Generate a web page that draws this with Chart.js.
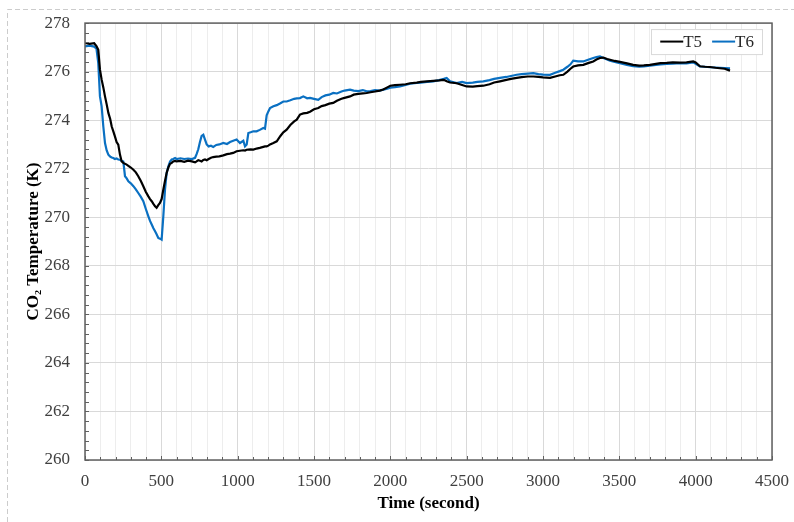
<!DOCTYPE html>
<html>
<head>
<meta charset="utf-8">
<title>CO2 Temperature</title>
<script src="https://cdn.jsdelivr.net/npm/chart.js@4.4.1/dist/chart.umd.min.js"></script>
<style>
  html, body { margin: 0; padding: 0; background: #fff; }
  #wrap { position: relative; width: 794px; height: 522px; }
</style>
</head>
<body>
<div id="wrap"><canvas id="tempChart"></canvas></div>
<script>
// Logged time (s)
const timeSec = [
  0, 30, 60, 75, 87, 98, 109, 120, 131, 142,
  153, 165, 175, 185, 196, 207, 218, 229, 240, 251,
  262, 273, 284, 300, 317, 333, 349, 365, 382, 398,
  415, 426, 437, 448, 459, 469, 480, 491, 502, 513,
  524, 535, 546, 557, 568, 578, 590, 600, 625, 650,
  675, 700, 721, 731, 742, 753, 764, 775, 786, 797,
  810, 825, 840, 860, 880, 906, 930, 950, 971, 993,
  1015, 1037, 1048, 1059, 1070, 1085, 1103, 1124, 1145, 1168,
  1179, 1190, 1201, 1212, 1234, 1256, 1280, 1299, 1321, 1345,
  1370, 1387, 1408, 1430, 1455, 1474, 1500, 1528, 1550, 1575,
  1600, 1626, 1650, 1680, 1700, 1736, 1760, 1790, 1820, 1845,
  1870, 1900, 1930, 1954, 1980, 2000, 2030, 2063, 2100, 2130,
  2173, 2200, 2240, 2281, 2320, 2350, 2369, 2391, 2435, 2470,
  2500, 2540, 2570, 2609, 2650, 2680, 2718, 2760, 2790, 2828,
  2860, 2900, 2937, 2970, 3000, 3046, 3080, 3110, 3133, 3160,
  3180, 3198, 3230, 3264, 3300, 3329, 3350, 3373, 3395, 3420,
  3439, 3470, 3504, 3550, 3591, 3630, 3660, 3700, 3740, 3770,
  3810, 3850, 3897, 3940, 3984, 4000, 4028, 4060, 4094, 4130,
  4159, 4190, 4225
];

// CO2 temperature at sensor T5 (K)
const tempT5 = [
  277.18, 277.14, 277.17, 277.05, 276.90, 276.08, 275.67, 275.35, 274.98, 274.65,
  274.30, 274.05, 273.74, 273.55, 273.33, 273.10, 272.99, 272.58, 272.30, 272.24,
  272.20, 272.17, 272.12, 272.05, 271.96, 271.85, 271.69, 271.50, 271.28, 271.05,
  270.86, 270.75, 270.66, 270.55, 270.45, 270.39, 270.50, 270.59, 270.75, 271.14,
  271.50, 271.83, 272.05, 272.20, 272.24, 272.30, 272.32, 272.30, 272.32, 272.28,
  272.33, 272.30, 272.26, 272.30, 272.35, 272.33, 272.30, 272.36, 272.38, 272.35,
  272.40, 272.45, 272.48, 272.50, 272.51, 272.55, 272.60, 272.62, 272.65, 272.72,
  272.74, 272.76, 272.75, 272.78, 272.79, 272.80, 272.79, 272.83, 272.86, 272.90,
  272.92, 272.92, 272.95, 273.00, 273.06, 273.13, 273.35, 273.50, 273.61, 273.80,
  273.95, 274.02, 274.23, 274.28, 274.30, 274.35, 274.45, 274.50, 274.58, 274.62,
  274.68, 274.71, 274.80, 274.88, 274.92, 274.98, 275.05, 275.08, 275.10, 275.12,
  275.15, 275.18, 275.22, 275.26, 275.35, 275.42, 275.44, 275.46, 275.48, 275.52,
  275.55, 275.58, 275.60, 275.62, 275.64, 275.66, 275.60, 275.55, 275.52, 275.45,
  275.39, 275.38, 275.40, 275.42, 275.48, 275.55, 275.60, 275.66, 275.70, 275.74,
  275.77, 275.80, 275.80, 275.78, 275.76, 275.74, 275.80, 275.85, 275.87, 276.00,
  276.12, 276.21, 276.26, 276.28, 276.36, 276.42, 276.50, 276.56, 276.58, 276.52,
  276.49, 276.44, 276.40, 276.34, 276.28, 276.25, 276.26, 276.28, 276.32, 276.35,
  276.36, 276.38, 276.37, 276.38, 276.42, 276.38, 276.22, 276.20, 276.19, 276.16,
  276.14, 276.12, 276.04
];

// CO2 temperature at sensor T6 (K)
const tempT6 = [
  277.04, 277.07, 277.03, 276.95, 276.35, 274.98, 274.57, 273.74, 273.06, 272.75,
  272.58, 272.50, 272.46, 272.44, 272.40, 272.42, 272.38, 272.37, 272.33, 272.30,
  271.69, 271.60, 271.48, 271.40, 271.28, 271.15, 271.00, 270.85, 270.66, 270.35,
  270.04, 269.85, 269.70, 269.55, 269.42, 269.30, 269.15, 269.12, 269.08, 270.04,
  271.14, 271.83, 272.10, 272.30, 272.38, 272.40, 272.44, 272.40, 272.43, 272.40,
  272.42, 272.40, 272.45, 272.60, 272.80, 273.10, 273.35, 273.40, 273.20, 273.00,
  272.92, 272.95, 272.90, 272.98, 273.00, 273.06, 273.02, 273.10, 273.15, 273.20,
  273.06, 273.15, 272.92, 273.00, 273.47, 273.50, 273.54, 273.54, 273.60, 273.68,
  273.65, 274.20, 274.36, 274.50, 274.57, 274.62, 274.70, 274.77, 274.77, 274.82,
  274.88, 274.90, 274.91, 274.98, 274.90, 274.92, 274.88, 274.84, 274.95, 275.02,
  275.05, 275.12, 275.10, 275.18, 275.22, 275.26, 275.22, 275.20, 275.24, 275.19,
  275.20, 275.24, 275.22, 275.26, 275.30, 275.34, 275.36, 275.39, 275.45, 275.50,
  275.53, 275.55, 275.58, 275.60, 275.65, 275.70, 275.74, 275.60, 275.53, 275.58,
  275.53, 275.55, 275.58, 275.60, 275.65, 275.70, 275.74, 275.78, 275.82, 275.87,
  275.90, 275.92, 275.94, 275.90, 275.88, 275.87, 275.95, 276.02, 276.08, 276.20,
  276.30, 276.45, 276.42, 276.42, 276.50, 276.56, 276.60, 276.63, 276.56, 276.50,
  276.45, 276.40, 276.35, 276.28, 276.22, 276.20, 276.22, 276.25, 276.28, 276.30,
  276.32, 276.33, 276.35, 276.34, 276.38, 276.32, 276.21, 276.20, 276.18, 276.17,
  276.16, 276.15, 276.13
];

const seriesNames = ['T5', 'T6'];
const seriesColors = ['#000000', '#0a70c2'];

// Axis tick values (labelled)
const xTickLabels = [0, 500, 1000, 1500, 2000, 2500, 3000, 3500, 4000, 4500];
const yTickLabels = [260, 262, 264, 266, 268, 270, 272, 274, 276, 278];

const X_MIN = xTickLabels[0], X_MAX = xTickLabels[xTickLabels.length - 1];
const Y_MIN = yTickLabels[0], Y_MAX = yTickLabels[yTickLabels.length - 1];
const X_MINOR = 100;   // vertical grid every 100 s
const Y_MINOR = 0.4;   // small inside ticks on the y axis

const serif = "'Liberation Serif', 'Times New Roman', serif";

// Frame, inside ticks and legend box drawn on top of the chart
const frameAndLegend = {
    id: 'frameAndLegend',
    beforeDraw(chart) {
        const ctx = chart.ctx;
        // dashed outline around the figure
        ctx.save();
        ctx.strokeStyle = '#cccccc';
        ctx.lineWidth = 1;
        ctx.setLineDash([5, 3]);
        ctx.beginPath();
        ctx.moveTo(7.5, chart.height);
        ctx.lineTo(7.5, 9.5);
        ctx.lineTo(chart.width, 9.5);
        ctx.stroke();
        ctx.restore();
    },
    afterDraw(chart) {
        const { ctx, chartArea: a, scales: { x, y } } = chart;
        ctx.save();
        ctx.strokeStyle = '#606060';

        // small ticks pointing into the plot
        ctx.lineWidth = 1;
        ctx.beginPath();
        for (let t = X_MIN; t <= X_MAX; t += X_MINOR) {
            const px = Math.round(x.getPixelForValue(t)) + 0.5;
            const len = t % 500 === 0 ? 4 : 3;
            ctx.moveTo(px, a.bottom);
            ctx.lineTo(px, a.bottom - len);
        }
        const nY = Math.round((Y_MAX - Y_MIN) / Y_MINOR);
        for (let k = 0; k <= nY; k++) {
            const py = Math.round(y.getPixelForValue(Y_MIN + k * Y_MINOR)) + 0.5;
            ctx.moveTo(a.left, py);
            ctx.lineTo(a.left + 4, py);
        }
        ctx.stroke();

        // plot frame
        ctx.lineWidth = 1.5;
        ctx.strokeRect(a.left, a.top, a.right - a.left, a.bottom - a.top);

        // legend
        ctx.font = '17px ' + serif;
        ctx.textBaseline = 'middle';
        const lineLen = 23, gap = 10, padL = 9, padR = 8, boxH = 25;
        const sets = chart.data.datasets;
        let boxW = padL + padR;
        sets.forEach((ds, i) => {
            boxW += lineLen + ctx.measureText(ds.label).width + (i < sets.length - 1 ? gap : 0);
        });
        const bx = a.right - 10 - boxW;
        const by = a.top + 6;
        ctx.fillStyle = '#ffffff';
        ctx.fillRect(bx, by, boxW, boxH);
        ctx.strokeStyle = '#d9d9d9';
        ctx.lineWidth = 1;
        ctx.strokeRect(Math.round(bx) + 0.5, by + 0.5, Math.round(boxW), boxH);

        let cx = bx + padL;
        const cy = by + boxH / 2;
        sets.forEach(ds => {
            ctx.strokeStyle = ds.borderColor;
            ctx.lineWidth = 2;
            ctx.beginPath();
            ctx.moveTo(cx, cy);
            ctx.lineTo(cx + lineLen, cy);
            ctx.stroke();
            cx += lineLen;
            ctx.fillStyle = '#262626';
            ctx.fillText(ds.label, cx, cy + 1);
            cx += ctx.measureText(ds.label).width + gap;
        });
        ctx.restore();
    }
};

const datasets = [tempT5, tempT6].map((temps, i) => ({
    label: seriesNames[i],
    data: timeSec.map((t, j) => ({ x: t, y: temps[j] })),
    borderColor: seriesColors[i],
    backgroundColor: seriesColors[i],
    borderWidth: 2.2,
    pointRadius: 0,
    tension: 0,
    fill: false
}));

const ctx = document.getElementById('tempChart').getContext('2d');
new Chart(ctx, {
    type: 'line',
    data: { datasets: datasets },
    options: {
        responsive: true,
        maintainAspectRatio: false,
        animation: false,
        events: [],
        layout: { padding: { top: 23, right: 22, bottom: 0, left: 0 } },
        plugins: {
            legend: { display: false },
            tooltip: { enabled: false }
        },
        scales: {
            x: {
                type: 'linear',
                min: X_MIN,
                max: X_MAX,
                afterFit(scale) { scale.height = 62; },
                afterBuildTicks(scale) {
                    const ticks = [];
                    for (let t = X_MIN; t <= X_MAX; t += X_MINOR) ticks.push({ value: t });
                    scale.ticks = ticks;
                },
                border: { display: false },
                grid: {
                    drawTicks: false,
                    color: c => (xTickLabels.includes(c.tick.value) ? '#d9d9d9' : '#ededed'),
                    lineWidth: 1
                },
                ticks: {
                    autoSkip: false,
                    maxRotation: 0,
                    padding: 5,
                    color: '#404040',
                    font: { family: serif, size: 17, lineHeight: 1.95 },
                    callback: v => (xTickLabels.includes(v) ? String(v) : '')
                },
                title: {
                    display: true,
                    text: 'Time (second)',
                    color: '#000000',
                    font: { family: serif, size: 17, weight: 'bold' },
                    padding: { top: 0, bottom: 8 }
                }
            },
            y: {
                type: 'linear',
                min: Y_MIN,
                max: Y_MAX,
                afterFit(scale) { scale.width = 85; },
                afterBuildTicks(scale) {
                    scale.ticks = yTickLabels.map(v => ({ value: v }));
                },
                border: { display: false },
                grid: { drawTicks: false, color: '#d9d9d9', lineWidth: 1 },
                ticks: {
                    padding: 15,
                    color: '#404040',
                    font: { family: serif, size: 17, lineHeight: 0.95 }
                },
                title: {
                    display: true,
                    text: 'CO\u2082 Temperature (K)',
                    color: '#000000',
                    font: { family: serif, size: 17, weight: 'bold' },
                    padding: { top: 23, bottom: 0 }
                }
            }
        }
    },
    plugins: [frameAndLegend]
});
</script>
</body>
</html>
